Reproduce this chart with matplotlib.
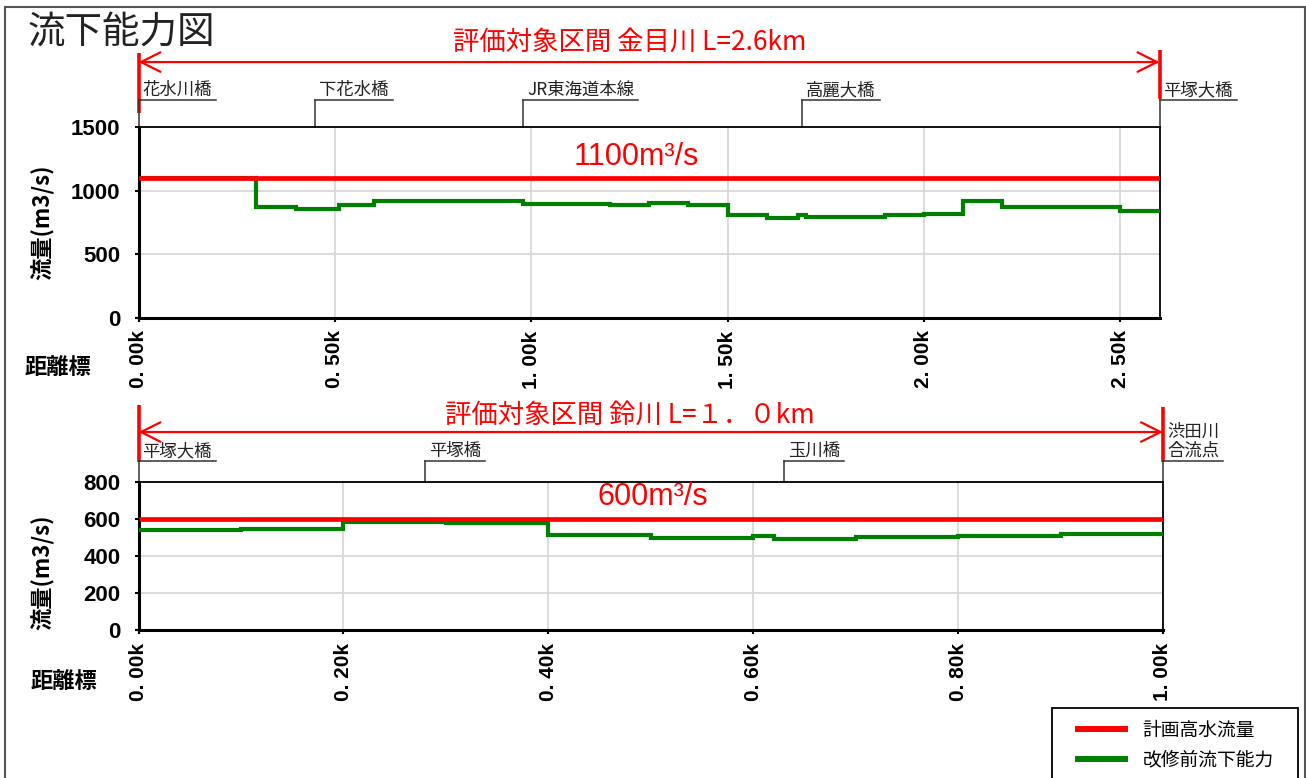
import matplotlib
matplotlib.use("Agg")
import matplotlib.pyplot as plt
from matplotlib.transforms import blended_transform_factory, offset_copy
from matplotlib.patches import Rectangle
from matplotlib.lines import Line2D

CJK = ["Noto Sans CJK JP", "DejaVu Sans"]
NUM = ["Liberation Sans", "DejaVu Sans"]
plt.rcParams["font.family"] = CJK

# ---------------- data ----------------
title_text = "流下能力図"
x_axis_label = "距離標"
y_axis_label = "流量(m3/s)"
legend_labels = ["計画高水流量", "改修前流下能力"]

# 金目川
k_range_label = "評価対象区間 金目川 L=2.6km"
k_length = 2.6
k_plan = 1100
k_plan_label = "1100m³/s"
k_edges = [0, 0.30, 0.40, 0.51, 0.60, 0.98, 1.20, 1.30, 1.40, 1.50, 1.60,
           1.68, 1.70, 1.80, 1.90, 2.00, 2.10, 2.20, 2.30, 2.50, 2.60]
k_capacity = [1100, 875, 855, 890, 915, 895, 890, 900, 888, 805,
              787, 812, 792, 795, 805, 820, 920, 875, 870, 840]
k_xticks = [0, 0.5, 1.0, 1.5, 2.0, 2.5]
k_xticklabels = ["0. 00k", "0. 50k", "1. 00k", "1. 50k", "2. 00k", "2. 50k"]
k_yticks = [0, 500, 1000, 1500]
k_bridge_names = ["花水川橋", "下花水橋", "JR東海道本線", "高麗大橋", "平塚大橋"]
k_bridge_km = [0.0, 0.45, 0.98, 1.69, 2.6]

# 鈴川
s_range_label = "評価対象区間 鈴川 L=１．０km"
s_length = 1.0
s_plan = 600
s_plan_label = "600m³/s"
s_edges = [0, 0.10, 0.20, 0.30, 0.40, 0.50, 0.60, 0.62, 0.70, 0.80, 0.90, 1.00]
s_capacity = [540, 545, 585, 578, 512, 497, 507, 493, 505, 510, 520]
s_xticks = [0, 0.2, 0.4, 0.6, 0.8, 1.0]
s_xticklabels = ["0. 00k", "0. 20k", "0. 40k", "0. 60k", "0. 80k", "1. 00k"]
s_yticks = [0, 200, 400, 600, 800]
s_bridge_names = ["平塚大橋", "平塚橋", "玉川橋", "渋田川\n合流点"]
s_bridge_km = [0.0, 0.28, 0.63, 1.0]

RED = "#ff0000"
GREEN = "#008000"
W, H = 1306, 778

fig = plt.figure(figsize=(W / 100, H / 100), dpi=100)
fig.patch.set_facecolor("white")

ax1 = fig.add_axes([138.5 / W, 1 - 318 / H, 1021 / W, 191 / H])
ax2 = fig.add_axes([138.5 / W, 1 - 630.3 / H, 1024.5 / W, 148.3 / H])

pending = []


def draw_river(ax, length, ymax, edges, cap, plan, plan_label, plan_pos,
               xticks, xlabels, yticks, range_label, range_pos, arrow_y,
               bar_left, bar_right, names, kms, bridge_h_px, ylabel_y):
    ax.set_xlim(0, length)
    ax.set_ylim(0, ymax)
    ax.set_xticks(xticks)
    ax.set_xticklabels(xlabels, rotation=90, fontfamily=NUM,
                       fontweight="bold", fontsize=15)
    ax.set_yticks(yticks)
    ax.set_yticklabels([str(v) for v in yticks], fontfamily=NUM,
                       fontweight="bold", fontsize=16)
    ax.tick_params(axis="y", length=3, width=1.5, pad=10)
    ax.tick_params(axis="x", length=3, width=1.5, pad=6)
    ax.grid(True, color="#d9d9d9", lw=1.3)
    ax.set_axisbelow(True)
    for s in ("left", "bottom"):
        ax.spines[s].set_linewidth(2.2)
    for s in ("top", "right"):
        ax.spines[s].set_linewidth(1.3)

    g = ax.stairs(cap, edges, baseline=None, color=GREEN, lw=3.0, zorder=3)
    r = ax.stairs([plan], [0, length], baseline=None, color=RED, lw=3.4,
                  zorder=4)
    ax.text(plan_pos[0], plan_pos[1], plan_label, transform=ax.transAxes,
            ha="center", va="center", color=RED, fontsize=22,
            fontfamily=NUM, zorder=5)

    ax.set_ylabel(y_axis_label, fontsize=16, fontweight="bold")
    ax.yaxis.set_label_coords(-0.082, ylabel_y)

    trans = blended_transform_factory(ax.transData, ax.transAxes)
    # range arrow
    ax.annotate("", xy=(length, arrow_y), xytext=(0, arrow_y),
                xycoords=trans, textcoords=trans,
                arrowprops=dict(arrowstyle="<->,head_length=1.4,head_width=0.7",
                                color=RED, lw=1.6, shrinkA=0, shrinkB=0,
                                mutation_scale=10))
    ax.plot([0, 0], bar_left, transform=trans, color=RED, lw=2.6,
            clip_on=False, solid_capstyle="butt")
    ax.plot([length, length], bar_right, transform=trans, color=RED, lw=2.6,
            clip_on=False, solid_capstyle="butt")
    ax.text(range_pos[0], range_pos[1], range_label, transform=ax.transAxes,
            ha="center", va="center", color=RED, fontsize=19)

    # bridges
    ax_h = ax.get_position().height * H
    h = 1 + bridge_h_px / ax_h
    for name, km in zip(names, kms):
        ax.plot([km, km], [1, h], transform=trans, color="#333333", lw=1.1,
                clip_on=False)
        t = ax.text(km, h, name,
                    transform=offset_copy(trans, fig=fig, x=4, y=1,
                                          units="dots"),
                    ha="left", va="bottom", fontsize=12.5, color="#222222",
                    linespacing=1.05)
        pending.append((ax, t, km, h, length))
    return r, g


red1, green1 = draw_river(ax1, k_length, 1500, k_edges, k_capacity, k_plan,
                          k_plan_label, (0.488, 0.843), k_xticks,
                          k_xticklabels, k_yticks, k_range_label,
                          (0.481, 1.445), 1.340, [1.387, 1.073],
                          [1.403, 1.147], k_bridge_names, k_bridge_km, 27,
                          0.5)
red2, green2 = draw_river(ax2, s_length, 800, s_edges, s_capacity, s_plan,
                          s_plan_label, (0.502, 0.899), s_xticks,
                          s_xticklabels, s_yticks, s_range_label,
                          (0.480, 1.452), 1.337, [1.519, 1.135],
                          [1.506, 1.135], s_bridge_names, s_bridge_km, 21,
                          0.39)

fig.canvas.draw()
renderer = fig.canvas.get_renderer()
for ax, t, km, h, length in pending:
    w = t.get_window_extent(renderer).width
    ax_w = ax.get_position().width * W
    wd = (w + 8) * length / ax_w
    trans = blended_transform_factory(ax.transData, ax.transAxes)
    ax.plot([km, km + wd], [h, h], transform=trans, color="#333333", lw=1.1,
            clip_on=False)

# figure texts
fig.text(28 / W, 1 - 32 / H, title_text, ha="left", va="center", fontsize=27,
         color="#222222")
fig.text(58 / W, 1 - 367 / H, x_axis_label, ha="center", va="center",
         fontsize=16, fontweight="bold")
fig.text(64 / W, 1 - 681 / H, x_axis_label, ha="center", va="center",
         fontsize=16, fontweight="bold")

# outer border
fig.patches.append(Rectangle((5 / W, -0.02), 1300 / W, 1 - 7 / H + 0.02,
                             transform=fig.transFigure, fill=False,
                             edgecolor="#555555", lw=1.5))
# legend box
fig.patches.append(Rectangle((1052 / W, -0.02), 246 / W, 1 - 708 / H + 0.02,
                             transform=fig.transFigure, fill=True,
                             facecolor="white", edgecolor="black", lw=1.3,
                             zorder=5))
h1 = Line2D([], [], color=RED, lw=4.3)
h2 = Line2D([], [], color=GREEN, lw=4.3)
leg = fig.legend([h1, h2], legend_labels, loc="upper left",
                 bbox_to_anchor=(1078 / W, 1 - 720 / H), frameon=False,
                 borderaxespad=0, borderpad=0, handlelength=2.5,
                 handletextpad=0.95, labelspacing=0.45, fontsize=13.5)
leg.set_zorder(6)

fig.savefig("out.png", dpi=100)
